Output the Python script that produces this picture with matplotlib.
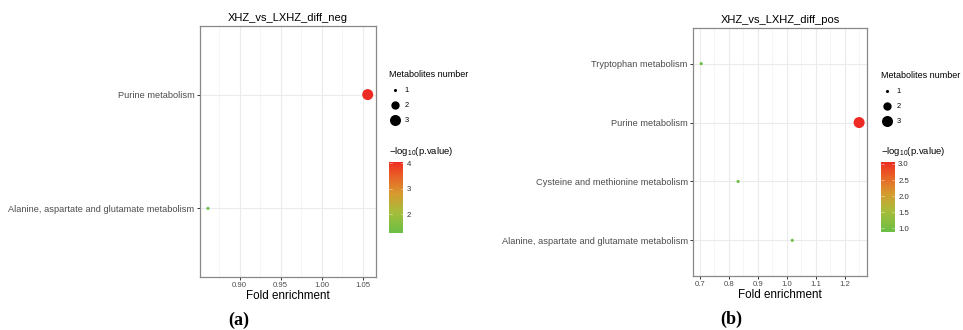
import numpy as np
import matplotlib
matplotlib.use("Agg")
from matplotlib import pyplot as plt
from matplotlib.colors import LinearSegmentedColormap, Normalize
from matplotlib.lines import Line2D
from matplotlib.ticker import MultipleLocator

plt.rcParams['font.family'] = ['Liberation Sans', 'DejaVu Sans']
plt.rcParams['mathtext.fontset'] = 'custom'
plt.rcParams['mathtext.rm'] = 'Liberation Sans'
plt.rcParams['mathtext.it'] = 'Liberation Sans'

# pathway enrichment, negative ion mode (bottom to top)
neg_pathways = ["Alanine, aspartate and glutamate metabolism", "Purine metabolism"]
neg_fold = [0.8615, 1.056]
neg_logp = [1.24, 4.06]
neg_count = [1, 3]

# pathway enrichment, positive ion mode (bottom to top)
pos_pathways = ["Alanine, aspartate and glutamate metabolism",
                "Cysteine and methionine metabolism",
                "Purine metabolism",
                "Tryptophan metabolism"]
pos_fold = [1.0186, 0.832, 1.249, 0.7048]
pos_logp = [0.90, 0.89, 3.07, 0.89]
pos_count = [1, 1, 3, 1]

size_levels = [1, 2, 3]

cmap = LinearSegmentedColormap.from_list(
    "grn_red",
    [(0.0, "#6BBF45"), (0.3, "#A9BD3B"), (0.55, "#D79A2F"),
     (0.8, "#EA5E27"), (1.0, "#EE2A24")])

# marker area (pt^2) per metabolite count
area = {1: 5, 2: 36, 3: 63}

W, H = 963, 330
fig = plt.figure(figsize=(W / 100, H / 100), dpi=100)


def px_rect(x0, y0, x1, y1):
    return [x0 / W, 1 - y1 / H, (x1 - x0) / W, (y1 - y0) / H]


def dot_panel(rect, cbrect, leg_xy, title, paths, fold, logp, count,
              major, minor, fmt, cticks, cfmt):
    ax = fig.add_axes(rect)
    n = len(paths)
    ypos = np.arange(1, n + 1)
    lo, hi = min(logp), max(logp)
    norm = Normalize(lo, hi)
    ax.set_axisbelow(True)
    ax.scatter(fold, ypos, s=[area[c] for c in count],
               c=logp, cmap=cmap, norm=norm, linewidths=0, zorder=3)
    span = max(fold) - min(fold)
    ax.set_xlim(min(fold) - 0.05 * span, max(fold) + 0.05 * span)
    ax.set_ylim(0.4, n + 0.6)
    ax.set_yticks(ypos)
    ax.set_yticklabels(paths)
    ax.xaxis.set_major_locator(MultipleLocator(major))
    ax.xaxis.set_minor_locator(MultipleLocator(minor))
    ax.xaxis.set_major_formatter(fmt)
    ax.grid(True, which='major', color='#EBEBEB', linewidth=0.8)
    ax.grid(True, which='minor', axis='x', color='#F4F4F4', linewidth=0.6)
    ax.tick_params(axis='y', labelsize=6.7, labelcolor='#4D4D4D',
                   length=2.5, width=0.7, color='#333333', pad=1.5)
    ax.tick_params(axis='x', labelsize=5.6, labelcolor='#4D4D4D',
                   length=2.5, width=0.7, color='#333333', pad=1.5)
    ax.tick_params(axis='x', which='minor', length=0)
    for sp in ax.spines.values():
        sp.set_color('#888888')
        sp.set_linewidth(0.9)
    ax.set_title(title, fontsize=8, pad=4)
    ax.set_xlabel("Fold enrichment", fontsize=8.4, labelpad=0.5)

    # size legend
    handles = [Line2D([], [], linestyle='none', marker='o', color='black',
                      markersize=np.sqrt(area[v]), markeredgewidth=0)
               for v in size_levels]
    leg = fig.legend(handles, [str(v) for v in size_levels],
                     title="Metabolites number", loc='upper left',
                     bbox_to_anchor=(leg_xy[0] / W, 1 - leg_xy[1] / H),
                     frameon=False, fontsize=5.4, title_fontsize=6.5,
                     borderpad=0, borderaxespad=0, handlelength=1.6,
                     handletextpad=0.5, labelspacing=1.05)
    leg._legend_box.align = "left"

    # colour bar
    cax = fig.add_axes(cbrect)
    grad = np.linspace(lo, hi, 256).reshape(-1, 1)
    cax.imshow(grad, aspect='auto', origin='lower', cmap=cmap, norm=norm,
               extent=[0, 1, lo, hi])
    cax.set_xticks([])
    cax.yaxis.tick_right()
    cax.set_yticks(cticks)
    cax.set_yticklabels([cfmt(t) for t in cticks])
    cax.tick_params(axis='y', labelsize=5.6, labelcolor='#333333',
                    length=0, pad=2.5)
    for t in cticks:
        cax.plot([0, 0.2], [t, t], color='white', linewidth=0.4, alpha=0.7)
        cax.plot([0.8, 1], [t, t], color='white', linewidth=0.4, alpha=0.7)
    cax.set_xlim(0, 1)
    cax.set_ylim(lo, hi)
    for sp in cax.spines.values():
        sp.set_visible(False)
    fig.text(cbrect[0], cbrect[1] + cbrect[3] + 0.012,
             r"$-$log$_{10}$(p.value)", fontsize=6.8, va='bottom', ha='left')
    return ax


dot_panel(px_rect(200, 26.3, 375.7, 276.7), px_rect(389.3, 161.7, 403.3, 233.3),
          (389, 70), "XHZ_vs_LXHZ_diff_neg",
          neg_pathways, neg_fold, neg_logp, neg_count,
          0.05, 0.025, "{x:.2f}", [2, 3, 4], lambda t: f"{t:g}")

dot_panel(px_rect(693.3, 28.3, 867, 275.7), px_rect(880.7, 161.7, 894.7, 231.7),
          (880.7, 71), "XHZ_vs_LXHZ_diff_pos",
          pos_pathways, pos_fold, pos_logp, pos_count,
          0.1, 0.05, "{x:.1f}", [1.0, 1.5, 2.0, 2.5, 3.0], lambda t: f"{t:.1f}")

fig.text(239 / W, 1 - 320 / H, "(a)", fontsize=13, fontweight='bold',
         family='Liberation Serif', ha='center', va='center')
fig.text(731.7 / W, 1 - 319.3 / H, "(b)", fontsize=13, fontweight='bold',
         family='Liberation Serif', ha='center', va='center')

fig.savefig("out.png", dpi=100)
